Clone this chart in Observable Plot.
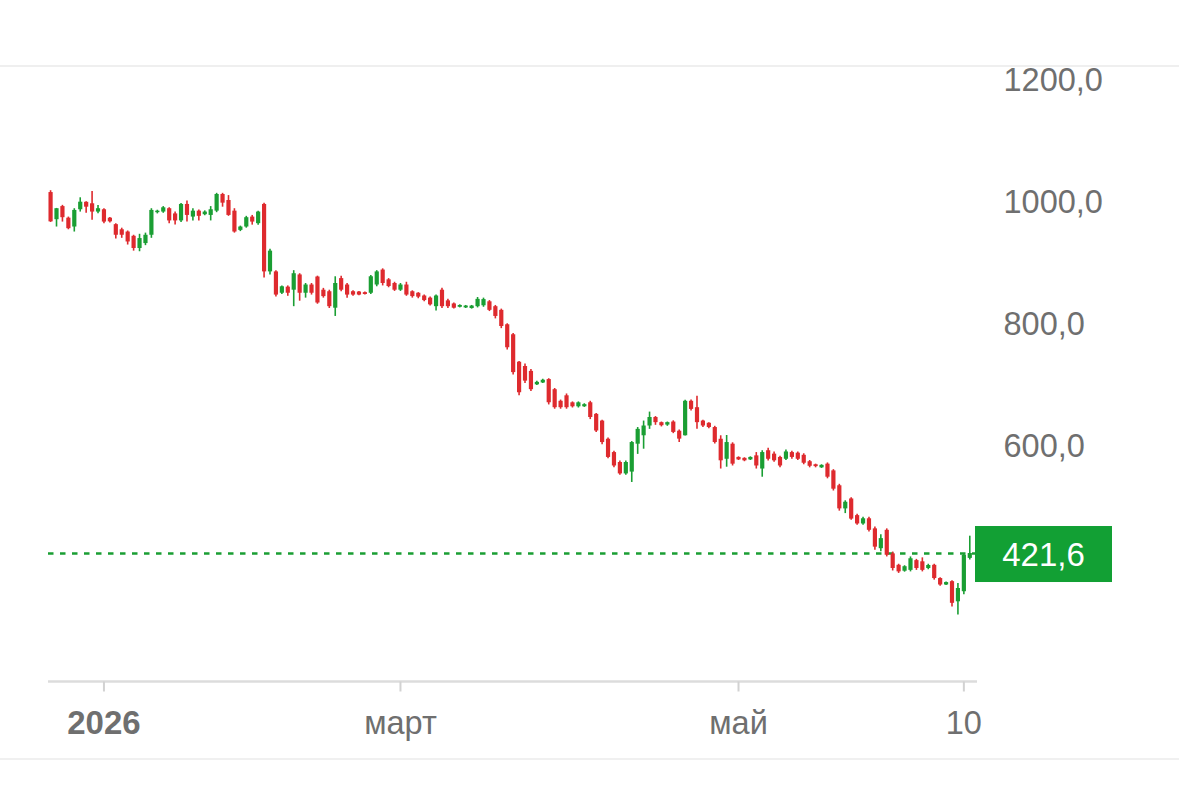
<!DOCTYPE html>
<html>
<head>
<meta charset="utf-8">
<script src="https://cdn.jsdelivr.net/npm/d3@7"></script>
<script src="https://cdn.jsdelivr.net/npm/@observablehq/plot@0.6"></script>
<style>
  html, body { margin: 0; padding: 0; background: #fff; }
  #chart { position: relative; width: 1179px; height: 798px; }
</style>
</head>
<body>
<div id="chart"></div>
<script>
// Daily candles (index 0..155)
const opens = [1013,968.5,990,971,956.5,984.8,997,994.6,981,984.8,971,960.4,952,948.3,941.3,921.3,929.4,943,980,981,
  986.5,978,966.5,993.5,972.8,982.5,976.7,975.5,982.5,1009.8,1000,982.5,951,956.5,972.8,962,993.5,883,883,848,
  858,853,878,848,861.5,874.6,853,850.5,823.5,872,861.5,850.5,850,849,848,861.5,886,870,864,853,
  861.5,850.5,848,843.5,840,826,853,835.5,830.5,825,824,823,826,827.5,834,826,820,796.4,780,735,
  728,720,698,701,706.6,690,671,680,668.5,662,662,668.6,649.6,638.6,608.8,587,570.7,552,555,600.7,
  614.5,630.5,644.4,636,632,637,622,614.5,671,660.5,638.6,635,628,608.8,576,600.7,579,577.5,575,581.6,
  560,590,584.4,579,576,587,586,582.5,572,567,562,568,557,532.6,494.7,511,483.7,470,478.5,462,
  429.5,459.6,421,402.3,392.6,394,410,408,397,402.3,380.6,370,375.5,342.5,359,413.6];
const highs = [1016,987,992,972.8,986.5,1004.4,998,1014.7,991.8,986.5,972,962,954.6,950,943,944.6,946.5,986.5,984,990,
  988,981,995,999,986.5,984.5,983,990,1011.7,1011.7,1008,986.5,958,974,975.5,982.5,995.6,920,885,860,
  860,885,880,864,864,876,856,853,875,876,864,852,851,850,877,885,888,872,866,864,
  866,852,849,845,842,845,856,838,832,829,828,828,841,840,836,828,822,798,782,736,
  732,723,704,707,708,692,673,683,670,670,667,671,651,640,611,589,573,573,605,628,
  638.6,653.3,646,637,637,639,624,672.6,673,679.4,640,636,630,614.5,615,603,580,578.5,580,587,
  590,594,588,581,591,589,588,585,574,568,567,570,559,535,508,513,486,481,481,465,
  452.3,462,424,404,401.6,416,412,414.5,404,404,382,375,377,372.5,420,450];
const lows = [964,956.5,964.6,952,948.3,981,979,967.4,978.3,962,963,937,938,927,917,916,926,938,978,979,
  962,960,964,964.6,966.5,966.5,975,966.5,980,989,974,946.5,949,954.6,959.6,959.6,873,878,842,846,
  843,826,835,840,845,830,840,823,810,850.5,840,843,844,845,846,858.6,860,857,851,851,
  843,840,839,834,827,819,823,823,822,824,823,822,824,825,818,806,790,755,714,680,
  700,687,697,700,665,658,658,658,660,660,661,641,620,600,577,562,550,550,538,584,
  592.5,625,631.6,629,630,618,603.4,614,655,625,628,626,601,560,563,565,574,572,574,560,
  546.6,573,571,562,574,576,574,567,562,562,561,544,524,491,487,476,468,468,457,427,
  424.6,416,393,389,391,391.5,394,391.5,395,378,368,369,334,321,354,411];
const closes = [965,986.5,971.8,953.8,983.7,997.2,989,981,986.5,964.6,965,943,943,932,921.3,937.6,943,983.7,982.5,988,
  966.5,966.5,993.5,975.5,982.5,974,981,984.8,1009.8,995.6,975.5,948.3,956.5,971.8,964.6,981,883,917,845,858.6,
  848,880,848,861.5,848,832,842.5,826,864,853,845,845,845,846,875,883,864,859,853,861.5,
  845,842.5,841.6,836,829,843.5,826,826,823.5,828,827,827,838,837.6,820,810,793.5,758.7,718,685,
  704,690,702,705.5,668.6,660.5,660.5,660.5,662,668.5,665.5,644.4,622.3,603.4,579,565,552,570.7,603.4,625,
  630.5,644.4,636,631,636,620,609,671,657.7,636,630.5,628,603.4,573.5,603.4,568,575,573.5,579,565,
  587,576,573.5,565,588,579,576,569.5,564.5,564,566,546.6,527,494.7,505.6,478,470,478.5,459.6,432,
  446,418.7,397,391.5,400,413,397,394,402,380.6,370,374,340,364.3,418.7,421.6];

const yTicks = [600, 800, 1000, 1200];
const xTickPos = [9, 59, 116, 154];
const xTickLabels = ["2026", "март", "май", "10"];

const candles = opens.map((o, i) => ({i, open: o, high: highs[i], low: lows[i], close: closes[i]}));
const lastClose = closes[closes.length - 1];

const GREEN = "#1a9e33";
const RED = "#de2a2e";
const TAG = "#12a034";
const GRAY = "#6f6f6f";
const FONT = "Liberation Sans, Arial, sans-serif";
const colorOf = d => d.close >= d.open ? GREEN : RED;
const fmt = v => v.toFixed(1).replace(".", ",");
const labelOf = new Map(xTickPos.map((p, k) => [p, xTickLabels[k]]));

const W = 1179, H = 798;

const decor = (index, scales, values, dims) => {
  const g = d3.create("svg:g");
  g.append("line").attr("x1", 0).attr("x2", dims.width).attr("y1", 66).attr("y2", 66)
    .attr("stroke", "#efefef").attr("stroke-width", 2);
  g.append("line").attr("x1", 0).attr("x2", dims.width).attr("y1", 759).attr("y2", 759)
    .attr("stroke", "#f0f0f0").attr("stroke-width", 2);
  const yb = dims.height - dims.marginBottom;
  g.append("line").attr("x1", dims.marginLeft).attr("x2", dims.width - dims.marginRight)
    .attr("y1", yb).attr("y2", yb).attr("stroke", "#dcdcdc").attr("stroke-width", 2.5);
  return g.node();
};

const priceTag = (index, scales, values, dims) => {
  const g = d3.create("svg:g");
  const yc = scales.y(lastClose) + 1;
  const x0 = dims.width - dims.marginRight - 2;
  g.append("rect").attr("x", x0).attr("y", yc - 28).attr("width", 137).attr("height", 56).attr("fill", TAG);
  g.append("text").attr("x", x0 + 68.5).attr("y", yc).attr("dy", "0.36em")
    .attr("text-anchor", "middle").attr("fill", "#fff")
    .attr("font-size", 33).attr("font-family", FONT)
    .text(fmt(lastClose));
  return g.node();
};

const chart = Plot.plot({
  width: W,
  height: H,
  marginTop: 0,
  marginLeft: 48,
  marginRight: 202,
  marginBottom: 116.5,
  style: {fontFamily: FONT, background: "#fff", overflow: "visible"},
  x: {type: "linear", domain: [-0.35, 156.3]},
  y: {domain: [400, 1200], range: [566.2, 77.9]},
  marks: [
    decor,
    Plot.ruleY([lastClose], {stroke: GREEN, strokeWidth: 2.5, strokeDasharray: "5.5,6.5"}),
    Plot.ruleX(candles, {x: "i", y1: "low", y2: "high", stroke: colorOf, strokeWidth: 1.6}),
    Plot.ruleX(candles, {x: "i", y1: "open", y2: "close", stroke: colorOf, strokeWidth: 4.2}),
    Plot.axisY({anchor: "right", ticks: yTicks, tickSize: 0, tickPadding: 26, tickFormat: fmt,
      fontSize: 32.5, fill: GRAY, textAnchor: "start", dy: 2, label: null}),
    Plot.axisX({ticks: xTickPos.slice(0, 1), tickSize: 10, tickPadding: 19, stroke: "#d2d2d2", strokeWidth: 2,
      tickFormat: p => labelOf.get(p), fontSize: 33, fontWeight: "bold", fill: GRAY, label: null}),
    Plot.axisX({ticks: xTickPos.slice(1), tickSize: 10, tickPadding: 19, stroke: "#d2d2d2", strokeWidth: 2,
      tickFormat: p => labelOf.get(p), fontSize: 32.5, fill: GRAY, label: null}),
    priceTag
  ]
});

document.getElementById("chart").appendChild(chart);
</script>
</body>
</html>
